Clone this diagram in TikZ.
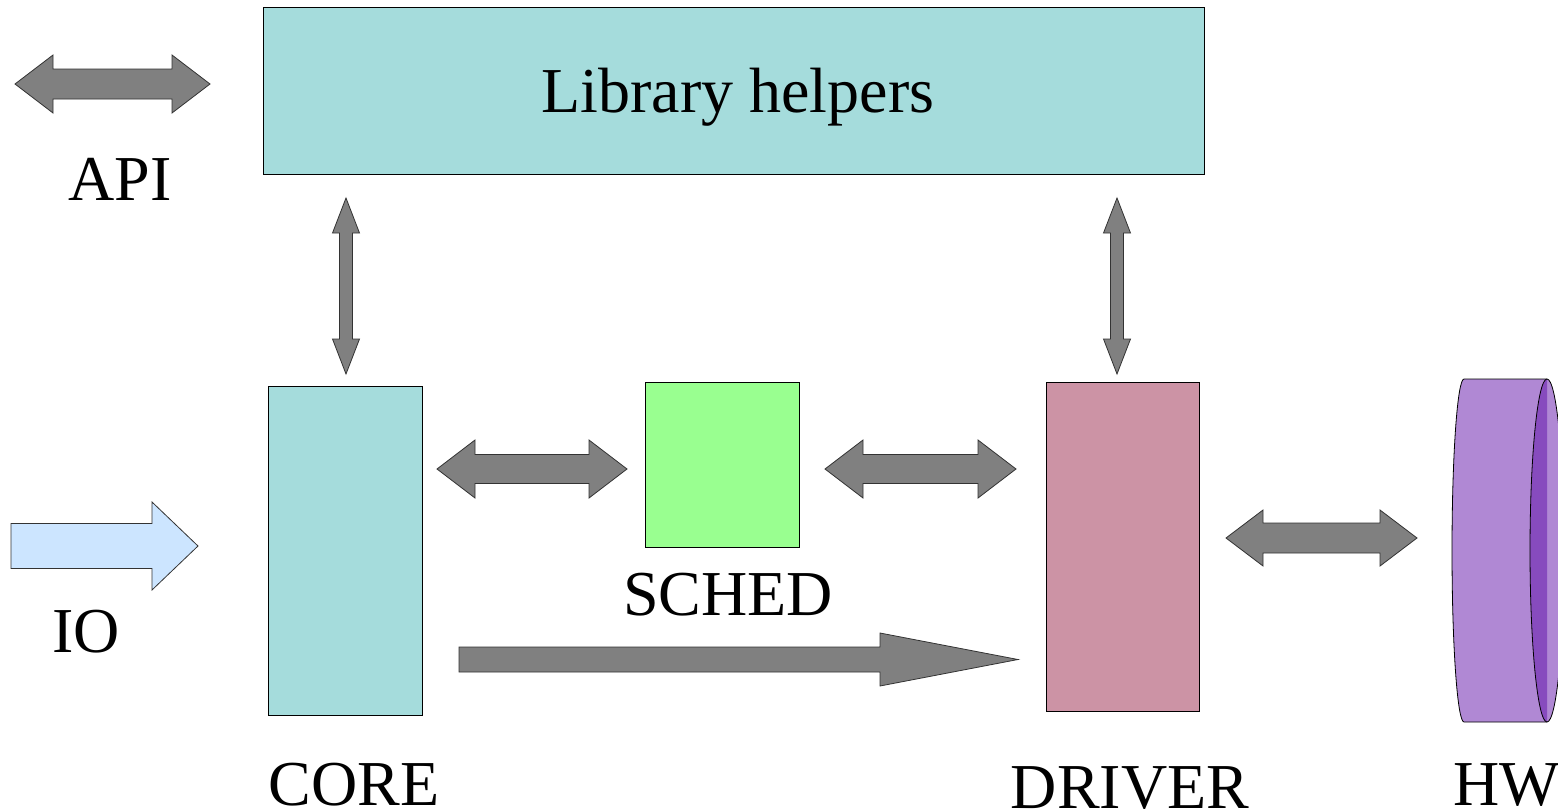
\documentclass[tikz,border=0pt]{standalone}
\usepackage{fontspec}
\setmainfont{Liberation Serif}
\definecolor{tealbox}{RGB}{165,220,220}
\definecolor{schedgreen}{RGB}{153,255,144}
\definecolor{driverpink}{RGB}{204,147,165}
\definecolor{ioblue}{RGB}{204,229,255}
\definecolor{arrowgray}{RGB}{128,128,128}
\definecolor{hwlight}{RGB}{176,136,212}
\definecolor{hwdark}{RGB}{135,75,190}
\tikzset{
  box/.style={draw=black, line width=0.8pt, inner sep=0pt},
  blk/.style={draw=black!80, fill=arrowgray, line width=0.8pt, line join=miter},
  lbl/.style={anchor=base, inner sep=0pt, font=\fontsize{64}{70}\selectfont},
}
% horizontal double arrow: x1 x2 yc shafthalf headhalf headlen
\newcommand{\hdbl}[6]{%
  \draw[blk] (#1,#3) -- (#1+#6,#3-#5) -- (#1+#6,#3-#4) -- (#2-#6,#3-#4) -- (#2-#6,#3-#5)
    -- (#2,#3) -- (#2-#6,#3+#5) -- (#2-#6,#3+#4) -- (#1+#6,#3+#4) -- (#1+#6,#3+#5) -- cycle;}
% vertical double arrow: y1 y2 xc shafthalf headhalf headlen
\newcommand{\vdbl}[6]{%
  \draw[blk] (#3,#1) -- (#3-#5,#1+#6) -- (#3-#4,#1+#6) -- (#3-#4,#2-#6) -- (#3-#5,#2-#6)
    -- (#3,#2) -- (#3+#5,#2-#6) -- (#3+#4,#2-#6) -- (#3+#4,#1+#6) -- (#3+#5,#1+#6) -- cycle;}
% single right arrow: style x1 x2 yc shafthalf headhalf headlen
\newcommand{\hsgl}[7]{%
  \draw[#1] (#2,#4-#5) -- (#3-#7,#4-#5) -- (#3-#7,#4-#6) -- (#3,#4) -- (#3-#7,#4+#6)
    -- (#3-#7,#4+#5) -- (#2,#4+#5) -- cycle;}
\begin{document}
\begin{tikzpicture}[x=1pt,y=-1pt]
\useasboundingbox (0,0) rectangle (1558,809);

% boxes
\node[box, fill=tealbox, minimum width=941pt, minimum height=167pt] (lib) at (733.5,90.5) {};
\node[box, fill=tealbox, minimum width=154pt, minimum height=329pt] (core) at (345,550.5) {};
\node[box, fill=schedgreen, minimum width=154pt, minimum height=165pt] (sched) at (722,464.5) {};
\node[box, fill=driverpink, minimum width=153pt, minimum height=329pt] (driver) at (1122.5,546.5) {};

% labels
\node[lbl] (libtxt) at (738,112) {Library helpers};
\node[lbl] (apitxt) at (120,200) {API};
\node[lbl] (iotxt) at (86,652) {IO};
\node[lbl] (schedtxt) at (728,615) {SCHED};
\node[lbl] (coretxt) at (354,805) {CORE};
\node[lbl] (drivertxt) at (1130,808) {DRIVER};
\node[lbl] (hwtxt) at (1507,805) {HW};

% HW cylinder
\coordinate (hwtop) at (1464,379);
\filldraw[fill=hwlight, draw=black, line width=0.8pt]
  (1547,379) -- (hwtop) arc[start angle=90, end angle=270, x radius=12pt, y radius=171.5pt]
  -- (1547,722);
\fill[hwlight] (1547,550.5) ellipse[x radius=17pt, y radius=171.5pt];
\fill[hwdark] (1547,379) arc[start angle=90, end angle=270, x radius=17pt, y radius=171.5pt] -- cycle;
\draw[black, line width=0.8pt] (1547,550.5) ellipse[x radius=17pt, y radius=171.5pt];
\node[inner sep=0pt, minimum size=0pt] (hw) at (1500,550.5) {};

% double arrows
\hdbl{15}{210}{84}{15}{29}{38}
\vdbl{198}{374}{346}{6.5}{13.5}{35}
\vdbl{198}{374}{1117}{6.5}{13.5}{35}
\hdbl{437}{627}{469}{14.5}{29}{38}
\hdbl{825}{1016}{469}{14.5}{29}{38}
\hdbl{1226}{1417}{538}{15}{28}{37}

% single arrows
\hsgl{blk, fill=ioblue}{11}{198}{546}{22.5}{44}{46}
\hsgl{blk}{459}{1018}{659.5}{12.5}{26.5}{138}
\end{tikzpicture}
\end{document}
